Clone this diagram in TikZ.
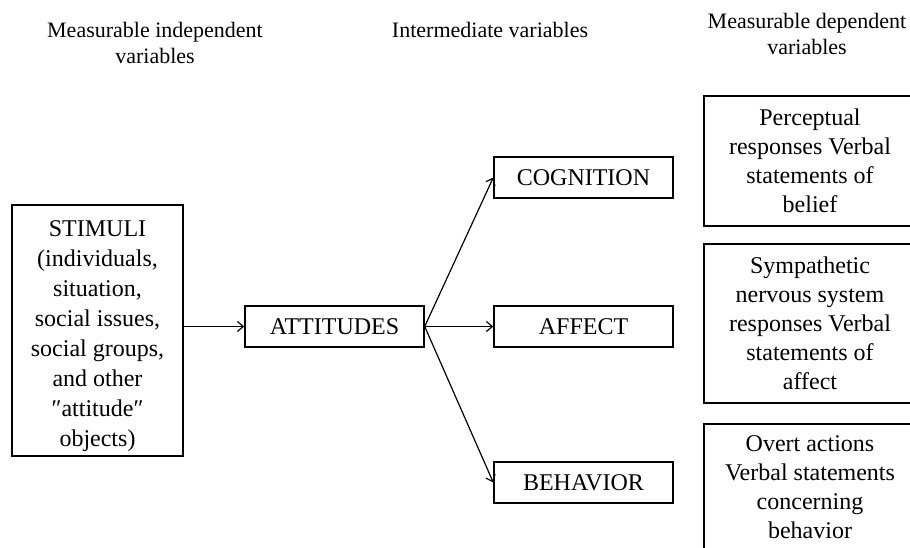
\documentclass[tikz,border=0pt]{standalone}
\usepackage{fontspec}
\setmainfont{Liberation Serif}
\usetikzlibrary{arrows.meta}
\begin{document}
\begin{tikzpicture}[x=1pt,y=-1pt,
  box/.style={draw, line width=1.4pt, inner sep=0pt, align=center, font=\fontsize{24}{29}\selectfont},
  hdr/.style={inner sep=0pt, align=center, font=\fontsize{22}{26}\selectfont},
  arr/.style={line width=1.2pt, -{Straight Barb[length=6pt,width=10pt]}}]
\useasboundingbox (0,0) rectangle (910,547);
\clip (0,0) rectangle (910,547);
% headers
\node[hdr] (h1) at (155,42.5) {Measurable independent\\variables};
\node[hdr, anchor=base] (h2) at (490,37) {Intermediate variables};
\node[hdr] (h3) at (807,34) {Measurable dependent\\variables};
% boxes
\node[box, minimum width=171pt, minimum height=251pt, font=\fontsize{24}{30}\selectfont] (stim) at (97.5,330.5)
  {\rule{0pt}{27pt}STIMULI\\(individuals,\\situation,\\social issues,\\social groups,\\and other\\″attitude″\\objects)};
\node[box, minimum width=179pt, minimum height=41pt] (att) at (334.5,326.5) {ATTITUDES};
\node[box, minimum width=179pt, minimum height=41pt] (cog) at (583.5,177.5) {COGNITION};
\node[box, minimum width=179pt, minimum height=41pt] (aff) at (583.5,326.5) {AFFECT};
\node[box, minimum width=179pt, minimum height=41pt] (beh) at (583.5,482.5) {BEHAVIOR};
\node[box, minimum width=212pt, minimum height=130pt] (r1) at (810,161)
  {Perceptual\\responses Verbal\\statements of\\belief};
\node[box, minimum width=212pt, minimum height=159pt] (r2) at (810,323.5)
  {Sympathetic\\nervous system\\responses Verbal\\statements of\\affect};
\node[box, minimum width=212pt, minimum height=126pt] (r3) at (810,487)
  {Overt actions\\Verbal statements\\concerning\\behavior};
% connectors
\draw[arr] (stim.east |- att.west) -- (att.west);
\draw[arr] (att.east) -- (cog.west);
\draw[arr] (att.east) -- (aff.west);
\draw[arr] (att.east) -- (beh.west);
\end{tikzpicture}
\end{document}
